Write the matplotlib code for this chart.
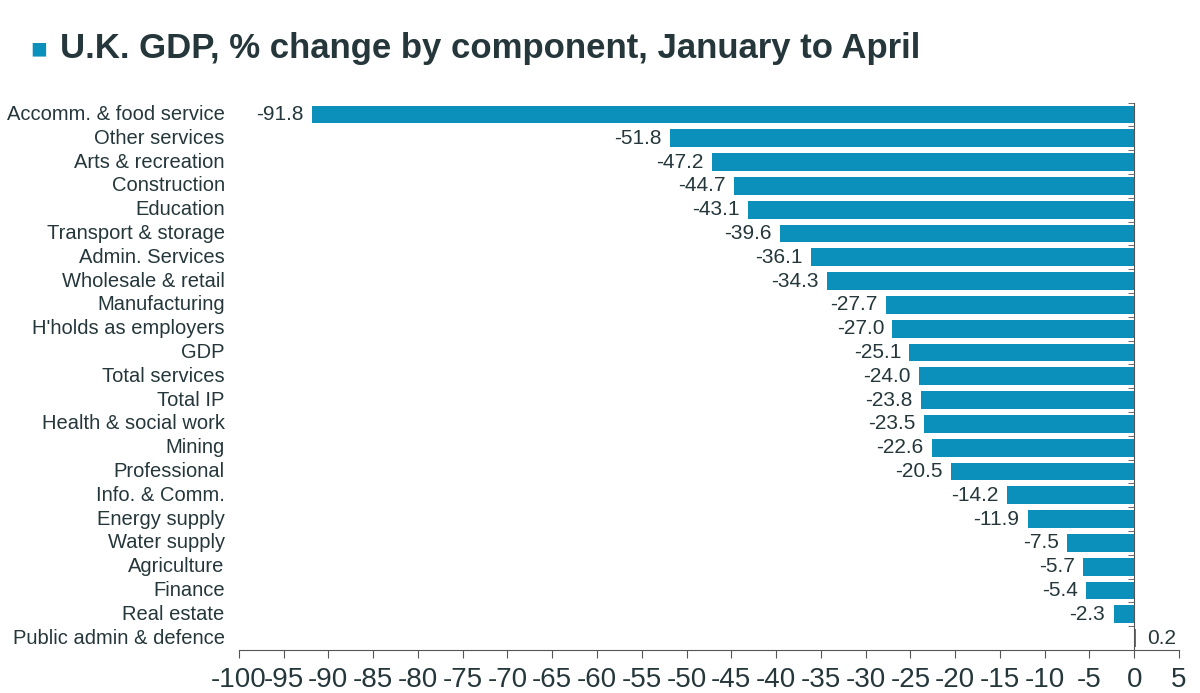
import matplotlib
matplotlib.use('Agg')
import matplotlib.pyplot as plt
import matplotlib.transforms as mtrans
import numpy as np

komponen = ["Accomm. & food service", "Other services", "Arts & recreation", "Construction",
            "Education", "Transport & storage", "Admin. Services", "Wholesale & retail",
            "Manufacturing", "H'holds as employers", "GDP", "Total services", "Total IP",
            "Health & social work", "Mining", "Professional", "Info. & Comm.",
            "Energy supply", "Water supply", "Agriculture", "Finance", "Real estate",
            "Public admin & defence"]
perubahan = [-91.8, -51.8, -47.2, -44.7, -43.1, -39.6, -36.1, -34.3, -27.7, -27.0, -25.1,
             -24.0, -23.8, -23.5, -22.6, -20.5, -14.2, -11.9, -7.5, -5.7, -5.4, -2.3, 0.2]
xticks = list(range(-100, 10, 5))

BIRU = '#0b8fbb'
TEKS = '#25373b'
plt.rcParams['font.family'] = ['Liberation Sans', 'DejaVu Sans']

fig = plt.figure(figsize=(12, 6.93), dpi=100)
ax = fig.add_axes([0.199, 0.062, 0.7835, 0.79])

n = len(komponen)
y = np.arange(n)
ax.barh(y, perubahan, height=0.75, color=BIRU)
ax.set_ylim(n - 0.5, -0.5)
ax.set_xlim(-100, 5)

# label nilai
for yi, v in zip(y, perubahan):
    if v < 0:
        ax.annotate(f'{v:.1f}', (v, yi), xytext=(-6, 0), textcoords='offset points',
                    ha='right', va='center', fontsize=15, color=TEKS)
    else:
        ax.annotate(f'{v:.1f}', (v, yi), xytext=(8, 0), textcoords='offset points',
                    ha='left', va='center', fontsize=15, color=TEKS)

# label kategori di kiri
trans = mtrans.blended_transform_factory(ax.transAxes, ax.transData)
for yi, nama in zip(y, komponen):
    ax.text(-0.015, yi, nama, transform=trans, ha='right', va='center',
            fontsize=14.5, color=TEKS)

for s in ['top', 'right']:
    ax.spines[s].set_visible(False)
ax.spines['left'].set_position(('data', 0))
ax.spines['left'].set_color('#555555')
ax.spines['bottom'].set_color('#555555')
ax.set_yticks([])
ax.set_yticks(np.arange(-0.5, n, 1), minor=True)
ax.tick_params(axis='y', which='minor', length=4, color='#555555', direction='out')
ax.set_xticks(xticks)
ax.set_xticklabels([str(t) for t in xticks])
ax.tick_params(axis='x', length=6, color='#555555', labelsize=20, labelcolor=TEKS, pad=6)

fig.text(0.025, 0.917, '\u25A0', color=BIRU, fontsize=20, va='baseline')
fig.text(0.05, 0.917, 'U.K. GDP, % change by component, January to April',
         fontsize=25, color=TEKS, fontweight='bold', va='baseline')

fig.savefig('out.png', dpi=100, facecolor='white')
